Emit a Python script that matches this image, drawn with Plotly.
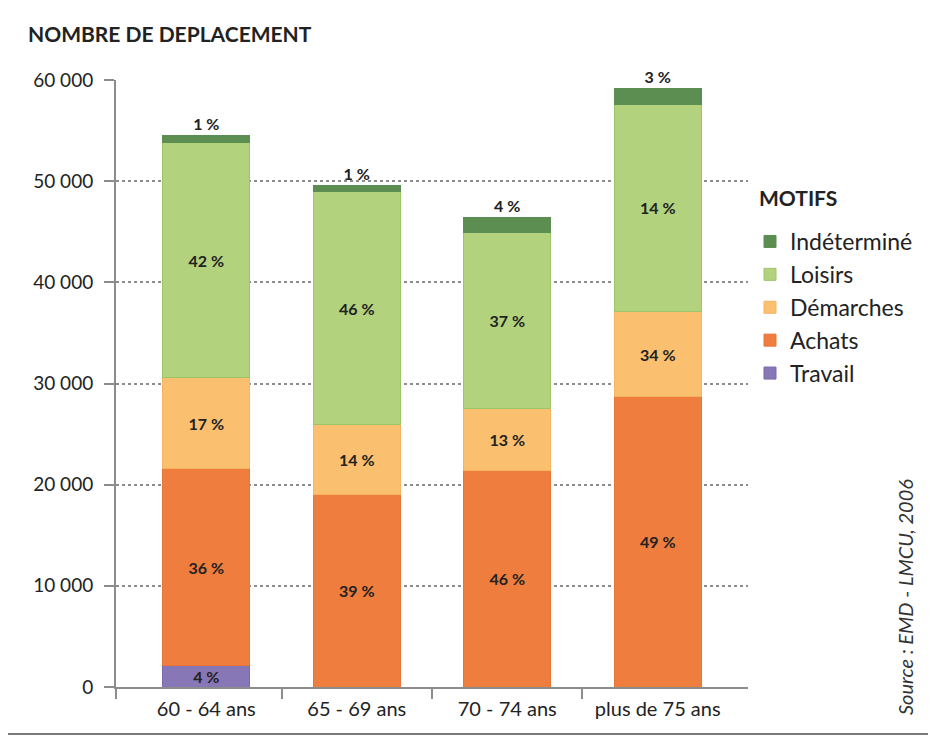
import plotly.graph_objects as go

categories = ["60 - 64 ans", "65 - 69 ans", "70 - 74 ans", "plus de 75 ans"]

travail = [2100, 0, 0, 0]
achats = [19500, 19000, 21450, 28700]
demarches = [8950, 6900, 6100, 8400]
loisirs = [23300, 23050, 17350, 20500]
indetermine = [650, 600, 1500, 1550]

travail_pct = ["4 %", "", "", ""]
achats_pct = ["36 %", "39 %", "46 %", "49 %"]
demarches_pct = ["17 %", "14 %", "13 %", "34 %"]
loisirs_pct = ["42 %", "46 %", "37 %", "14 %"]
indetermine_pct = ["1 %", "1 %", "4 %", "3 %"]

y_tickvals = [0, 10000, 20000, 30000, 40000, 50000, 60000]
y_ticktext = ["0", "10 000", "20 000", "30 000", "40 000", "50 000", "60 000"]

FONT = "Lato"
TXT = "#222222"
AX = "#8c8c8c"

series = [
    ("Travail", travail, travail_pct, "#8877b7", "#7a69ab", "inside"),
    ("Achats", achats, achats_pct, "#ef7d3e", "#e8743a", "inside"),
    ("Démarches", demarches, demarches_pct, "#fac06f", "#f4b460", "inside"),
    ("Loisirs", loisirs, loisirs_pct, "#b3d27e", "#9cc468", "inside"),
    ("Indéterminé", indetermine, indetermine_pct, "#5b8e50", "#5b8e50", "outside"),
]

fig = go.Figure()
for i, (name, vals, pct, col, edge, pos) in enumerate(series):
    fig.add_trace(go.Bar(
        name=name, x=categories, y=vals, text=pct,
        textposition=pos, insidetextanchor="middle", textangle=0,
        constraintext="none", cliponaxis=False,
        textfont=dict(family=FONT, size=16, color=TXT, weight="bold"),
        marker=dict(color=col, line=dict(color=edge, width=1)),
        hoverinfo="skip",
    ))

# empty helper trace so the boundary-tick axis is drawn
fig.add_trace(go.Scatter(x=[], y=[], xaxis="x2", yaxis="y", showlegend=False, hoverinfo="skip"))

W, H = 928, 728
L, T, B, R = 108, 72, 49, 188
PW, PH = W - L - R, H - T - B

def px(xs):
    return (xs - 8 - L) / PW

def py(ys):
    return (H - B - (ys - 8)) / PH

fig.update_layout(
    barmode="stack",
    bargap=0.42,
    width=W, height=H,
    margin=dict(l=L, r=R, t=T, b=B),
    paper_bgcolor="white", plot_bgcolor="white",
    font=dict(family=FONT, size=20, color=TXT),
    title=dict(text="<b>NOMBRE DE DEPLACEMENT</b>", x=20/W, xanchor="left",
               y=1-27/H, yanchor="middle", font=dict(family=FONT, size=21, color=TXT)),
    xaxis=dict(type="category", range=[-0.6, 3.6], showline=True, linecolor=AX,
               linewidth=2, ticks="", showgrid=False, ticklabelstandoff=3,
               tickfont=dict(family=FONT, size=20, color=TXT)),
    xaxis2=dict(overlaying="x", anchor="y", side="bottom", range=[-0.6, 3.6],
                tickmode="array", tickvals=[-0.6, 0.5, 1.5, 2.5], ticks="outside",
                ticklen=11, tickwidth=2, tickcolor=AX, showticklabels=False,
                showgrid=False, showline=False, zeroline=False),
    yaxis=dict(range=[0, 60000], tickvals=y_tickvals, ticktext=y_ticktext,
               showline=True, linecolor=AX, linewidth=2,
               ticks="outside", ticklen=10, tickwidth=2, tickcolor=AX,
               showgrid=True, gridcolor=AX, gridwidth=2, griddash="dot",
               zeroline=False, ticklabelstandoff=7,
               tickfont=dict(family=FONT, size=19, color=TXT)),
    legend=dict(x=px(750), xanchor="left", y=py(220), yanchor="top",
                traceorder="reversed",
                font=dict(family=FONT, size=23, color=TXT), bgcolor="rgba(0,0,0,0)"),
    annotations=[
        dict(text="<b>MOTIFS</b>", xref="paper", yref="paper", x=px(757), y=py(197),
             xanchor="left", yanchor="middle", showarrow=False,
             font=dict(family=FONT, size=21, color=TXT)),
        dict(text="<i>Source : EMD - LMCU, 2006</i>", xref="paper", yref="paper",
             x=px(905), y=py(597), xanchor="center", yanchor="middle",
             textangle=-90, showarrow=False,
             font=dict(family=FONT, size=20, color="#333333")),
    ],
    shapes=[
        dict(type="line", xref="paper", yref="paper", x0=px(8), x1=px(936),
             y0=py(734), y1=py(734), line=dict(color="#7a7a7a", width=2), layer="above"),
    ],
)

fig.write_html("out.html")
